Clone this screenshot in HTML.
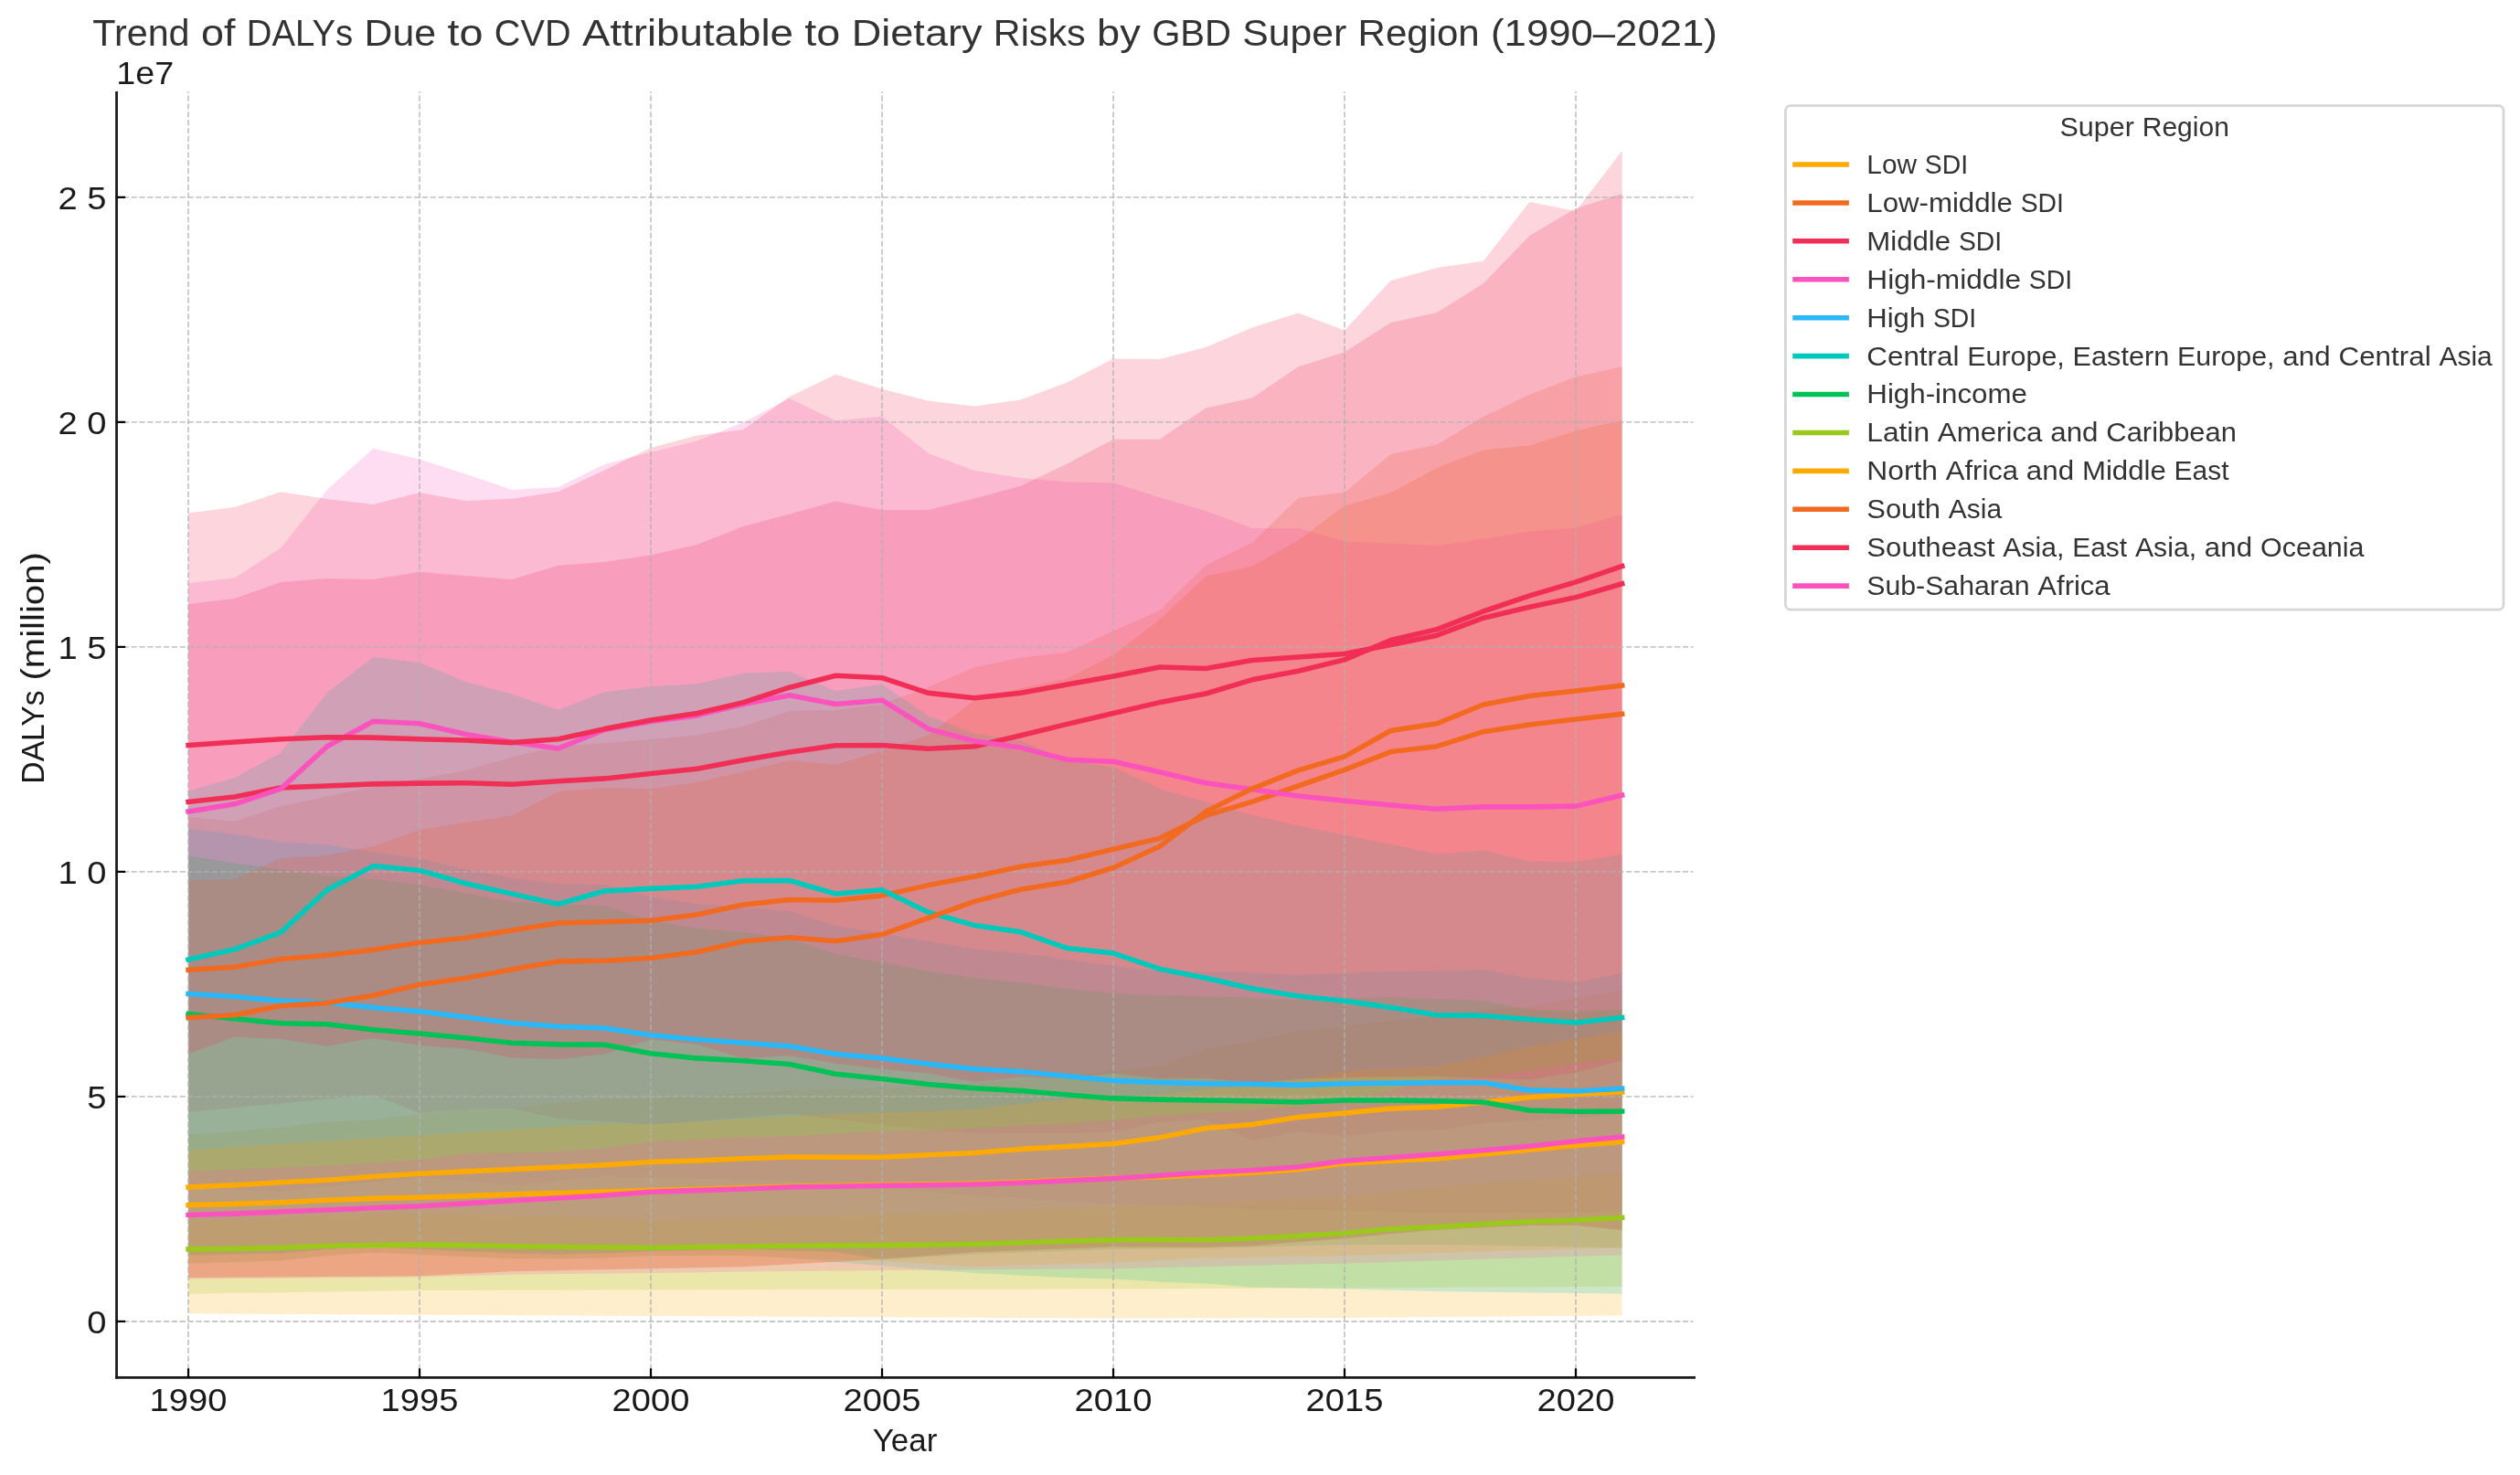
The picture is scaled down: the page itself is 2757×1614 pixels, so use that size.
<!DOCTYPE html>
<html lang="en"><head><meta charset="utf-8"><title>Trend of DALYs Due to CVD Attributable to Dietary Risks by GBD Super Region</title>
<style>html,body{margin:0;padding:0;background:#fff;}svg{will-change:transform;}body{width:2757px;height:1614px;position:relative;overflow:hidden;font-family:"Liberation Sans",sans-serif;}</style>
</head><body>
<svg width="2757" height="1614" viewBox="0 0 2757 1614" style="display:block;position:absolute;left:0;top:0">
<rect x="0" y="0" width="2757" height="1614" fill="#ffffff"/>
<g stroke="none">
<polygon points="206.1,1241.4 256.6,1238.3 307.2,1233.6 357.8,1227.6 408.4,1225.2 459.0,1219.3 509.6,1213.3 560.2,1212.9 610.8,1206.2 661.4,1203.0 712.0,1201.6 762.6,1199.0 813.2,1196.0 863.8,1193.0 914.4,1192.0 965.0,1191.0 1015.6,1188.0 1066.2,1185.2 1116.8,1181.0 1167.4,1177.0 1218.0,1172.0 1268.6,1166.0 1319.2,1147.6 1369.8,1139.3 1420.4,1127.4 1471.0,1123.8 1521.6,1116.0 1572.2,1111.9 1622.8,1105.0 1673.4,1101.0 1724.0,1091.7 1774.6,1083.3 1774.6,1439.5 1724.0,1439.9 1673.4,1440.3 1622.8,1440.7 1572.2,1441.1 1521.6,1441.5 1471.0,1441.9 1420.4,1442.0 1369.8,1442.2 1319.2,1442.3 1268.6,1442.5 1218.0,1442.6 1167.4,1442.3 1116.8,1442.1 1066.2,1441.8 1015.6,1441.6 965.0,1441.3 914.4,1441.0 863.8,1440.8 813.2,1440.5 762.6,1440.3 712.0,1440.0 661.4,1439.8 610.8,1439.5 560.2,1439.3 509.6,1439.0 459.0,1438.8 408.4,1438.6 357.8,1438.3 307.2,1438.1 256.6,1437.8 206.1,1437.6" fill="#FFAA00" fill-opacity="0.2"/>
<polygon points="206.1,894.0 256.6,898.8 307.2,882.1 357.8,871.4 408.4,860.7 459.0,852.4 509.6,843.0 560.2,828.6 610.8,816.7 661.4,813.1 712.0,809.0 762.6,804.3 813.2,794.8 863.8,778.1 914.4,776.9 965.0,770.5 1015.6,751.9 1066.2,730.0 1116.8,719.8 1167.4,713.8 1218.0,690.5 1268.6,668.0 1319.2,618.6 1369.8,594.0 1420.4,544.8 1471.0,538.8 1521.6,497.1 1572.2,486.4 1622.8,456.0 1673.4,431.7 1724.0,412.6 1774.6,401.2 1774.6,1346.0 1724.0,1340.7 1673.4,1340.7 1622.8,1343.0 1572.2,1345.5 1521.6,1350.0 1471.0,1355.0 1420.4,1359.0 1369.8,1363.3 1319.2,1364.5 1268.6,1364.4 1218.0,1364.3 1167.4,1366.2 1116.8,1368.1 1066.2,1370.0 1015.6,1373.8 965.0,1377.5 914.4,1380.5 863.8,1383.2 813.2,1386.0 762.6,1387.0 712.0,1388.0 661.4,1389.0 610.8,1390.0 560.2,1391.0 509.6,1393.5 459.0,1396.0 408.4,1396.4 357.8,1396.8 307.2,1397.1 256.6,1397.5 206.1,1397.9" fill="#F26A20" fill-opacity="0.2"/>
<polygon points="206.1,661.0 256.6,655.0 307.2,637.1 357.8,633.1 408.4,634.0 459.0,625.7 509.6,630.0 560.2,634.0 610.8,618.8 661.4,615.0 712.0,607.2 762.6,596.0 813.2,576.0 863.8,562.6 914.4,548.6 965.0,557.9 1015.6,557.9 1066.2,545.5 1116.8,531.7 1167.4,507.4 1218.0,480.7 1268.6,480.7 1319.2,446.4 1369.8,435.5 1420.4,401.2 1471.0,385.2 1521.6,352.9 1572.2,341.9 1622.8,310.2 1673.4,257.9 1724.0,228.1 1774.6,212.1 1774.6,1219.0 1724.0,1222.6 1673.4,1226.2 1622.8,1229.0 1572.2,1237.0 1521.6,1237.0 1471.0,1243.3 1420.4,1238.0 1369.8,1248.0 1319.2,1225.0 1268.6,1228.0 1218.0,1238.8 1167.4,1240.0 1116.8,1240.0 1066.2,1239.5 1015.6,1236.0 965.0,1231.0 914.4,1224.5 863.8,1219.0 813.2,1223.0 762.6,1227.0 712.0,1230.6 661.4,1226.9 610.8,1224.0 560.2,1212.9 509.6,1213.3 459.0,1218.1 408.4,1197.9 357.8,1202.6 307.2,1207.4 256.6,1212.1 206.1,1216.9" fill="#F02E56" fill-opacity="0.2"/>
<polygon points="206.1,637.9 256.6,632.4 307.2,599.8 357.8,536.0 408.4,490.7 459.0,502.6 509.6,518.8 560.2,536.0 610.8,533.1 661.4,508.1 712.0,495.0 762.6,482.4 813.2,462.1 863.8,436.0 914.4,460.2 965.0,455.7 1015.6,496.0 1066.2,515.0 1116.8,522.9 1167.4,527.6 1218.0,528.3 1268.6,544.3 1319.2,559.0 1369.8,577.9 1420.4,577.9 1471.0,592.4 1521.6,594.8 1572.2,596.9 1622.8,589.8 1673.4,581.4 1724.0,577.4 1774.6,563.1 1774.6,1325.0 1724.0,1327.0 1673.4,1327.0 1622.8,1327.0 1572.2,1327.0 1521.6,1326.0 1471.0,1325.0 1420.4,1324.0 1369.8,1322.5 1319.2,1321.0 1268.6,1319.5 1218.0,1318.1 1167.4,1315.0 1116.8,1311.8 1066.2,1308.6 1015.6,1303.8 965.0,1299.0 914.4,1295.5 863.8,1291.9 813.2,1290.8 762.6,1289.7 712.0,1288.5 661.4,1287.1 610.8,1291.9 560.2,1296.7 509.6,1292.5 459.0,1288.3 408.4,1293.5 357.8,1298.6 307.2,1303.8 256.6,1302.0 206.1,1300.2" fill="#FA53BD" fill-opacity="0.2"/>
<polygon points="206.1,907.1 256.6,913.1 307.2,921.4 357.8,924.3 408.4,932.1 459.0,939.3 509.6,951.2 560.2,960.7 610.8,966.7 661.4,968.3 712.0,981.0 762.6,989.3 813.2,992.9 863.8,997.1 914.4,1013.1 965.0,1021.0 1015.6,1030.0 1066.2,1038.3 1116.8,1042.9 1167.4,1050.0 1218.0,1057.1 1268.6,1062.6 1319.2,1063.3 1369.8,1064.3 1420.4,1066.7 1471.0,1064.8 1521.6,1063.1 1572.2,1062.6 1622.8,1061.2 1673.4,1070.2 1724.0,1075.0 1774.6,1064.8 1774.6,1345.7 1724.0,1340.4 1673.4,1340.4 1622.8,1342.7 1572.2,1345.2 1521.6,1349.7 1471.0,1354.7 1420.4,1358.7 1369.8,1363.0 1319.2,1364.2 1268.6,1364.1 1218.0,1364.0 1167.4,1365.9 1116.8,1367.8 1066.2,1369.7 1015.6,1373.5 965.0,1377.2 914.4,1369.7 863.8,1368.1 813.2,1366.7 762.6,1367.7 712.0,1368.7 661.4,1371.1 610.8,1372.3 560.2,1370.8 509.6,1368.9 459.0,1366.6 408.4,1364.2 357.8,1366.7 307.2,1371.2 256.6,1371.9 206.1,1373.1" fill="#29B8FA" fill-opacity="0.2"/>
<polygon points="206.1,865.5 256.6,851.0 307.2,823.8 357.8,757.9 408.4,719.0 459.0,725.0 509.6,746.0 560.2,759.5 610.8,776.7 661.4,757.1 712.0,751.2 762.6,748.3 813.2,736.4 863.8,734.8 914.4,756.0 965.0,748.8 1015.6,783.6 1066.2,802.6 1116.8,810.2 1167.4,831.7 1218.0,839.5 1268.6,863.1 1319.2,877.4 1369.8,891.7 1420.4,903.6 1471.0,913.8 1521.6,923.8 1572.2,934.5 1622.8,930.5 1673.4,942.4 1724.0,943.3 1774.6,934.5 1774.6,1415.7 1724.0,1415.1 1673.4,1414.5 1622.8,1413.7 1572.2,1412.9 1521.6,1411.7 1471.0,1410.5 1420.4,1409.5 1369.8,1408.6 1319.2,1404.5 1268.6,1402.6 1218.0,1399.5 1167.4,1397.9 1116.8,1395.5 1066.2,1393.0 1015.6,1389.5 965.0,1385.0 914.4,1381.0 863.8,1376.4 813.2,1374.0 762.6,1374.0 712.0,1374.0 661.4,1376.4 610.8,1377.6 560.2,1377.1 509.6,1375.2 459.0,1372.9 408.4,1370.5 357.8,1374.0 307.2,1379.5 256.6,1381.2 206.1,1382.4" fill="#00C9BB" fill-opacity="0.2"/>
<polygon points="206.1,936.2 256.6,944.5 307.2,951.2 357.8,958.3 408.4,961.9 459.0,967.9 509.6,977.4 560.2,986.9 610.8,989.3 661.4,991.0 712.0,1007.0 762.6,1015.7 813.2,1019.8 863.8,1026.9 914.4,1044.0 965.0,1053.1 1015.6,1062.6 1066.2,1069.8 1116.8,1075.2 1167.4,1081.7 1218.0,1086.9 1268.6,1089.3 1319.2,1090.0 1369.8,1091.7 1420.4,1094.0 1471.0,1092.4 1521.6,1091.2 1572.2,1092.9 1622.8,1094.8 1673.4,1104.8 1724.0,1106.7 1774.6,1104.8 1774.6,1365.2 1724.0,1364.4 1673.4,1363.6 1622.8,1362.8 1572.2,1362.0 1521.6,1362.0 1471.0,1362.0 1420.4,1363.3 1369.8,1364.7 1319.2,1366.0 1268.6,1366.5 1218.0,1367.0 1167.4,1368.8 1116.8,1370.7 1066.2,1372.5 1015.6,1375.5 965.0,1378.6 914.4,1370.3 863.8,1368.7 813.2,1367.3 762.6,1368.3 712.0,1369.3 661.4,1371.7 610.8,1372.9 560.2,1371.4 509.6,1369.5 459.0,1367.2 408.4,1364.8 357.8,1367.3 307.2,1371.8 256.6,1372.5 206.1,1373.7" fill="#00C256" fill-opacity="0.2"/>
<polygon points="206.1,1336.0 256.6,1334.8 307.2,1332.4 357.8,1330.0 408.4,1328.8 459.0,1328.1 509.6,1328.8 560.2,1330.0 610.8,1331.2 661.4,1332.4 712.0,1334.8 762.6,1333.6 813.2,1332.4 863.8,1331.2 914.4,1330.0 965.0,1328.8 1015.6,1327.6 1066.2,1326.4 1116.8,1324.4 1167.4,1322.5 1218.0,1320.5 1268.6,1318.5 1319.2,1315.5 1369.8,1313.5 1420.4,1311.0 1471.0,1308.6 1521.6,1303.8 1572.2,1299.0 1622.8,1294.9 1673.4,1290.7 1724.0,1287.1 1774.6,1283.6 1774.6,1407.9 1724.0,1408.1 1673.4,1408.4 1622.8,1408.6 1572.2,1408.8 1521.6,1409.1 1471.0,1409.3 1420.4,1409.6 1369.8,1409.8 1319.2,1410.0 1268.6,1410.3 1218.0,1410.5 1167.4,1410.6 1116.8,1410.7 1066.2,1410.8 1015.6,1410.9 965.0,1411.0 914.4,1411.0 863.8,1411.1 813.2,1411.2 762.6,1411.3 712.0,1411.4 661.4,1411.5 610.8,1411.7 560.2,1411.8 509.6,1412.0 459.0,1412.1 408.4,1412.8 357.8,1413.5 307.2,1414.3 256.6,1415.0 206.1,1415.7" fill="#9AC91C" fill-opacity="0.2"/>
<polygon points="206.1,1258.6 256.6,1255.0 307.2,1251.4 357.8,1248.6 408.4,1245.5 459.0,1242.4 509.6,1239.0 560.2,1236.0 610.8,1232.9 661.4,1230.0 712.0,1229.9 762.6,1227.5 813.2,1224.5 863.8,1221.5 914.4,1219.0 965.0,1217.4 1015.6,1215.5 1066.2,1213.8 1116.8,1207.9 1167.4,1203.1 1218.0,1200.7 1268.6,1197.5 1319.2,1192.0 1369.8,1188.0 1420.4,1181.8 1471.0,1171.9 1521.6,1169.5 1572.2,1166.7 1622.8,1156.0 1673.4,1145.2 1724.0,1136.9 1774.6,1128.6 1774.6,1365.2 1724.0,1366.6 1673.4,1368.0 1622.8,1369.5 1572.2,1371.0 1521.6,1372.5 1471.0,1374.0 1420.4,1374.8 1369.8,1375.6 1319.2,1376.4 1268.6,1379.0 1218.0,1381.5 1167.4,1383.0 1116.8,1384.5 1066.2,1386.0 1015.6,1382.9 965.0,1379.8 914.4,1378.0 863.8,1376.4 813.2,1374.0 762.6,1374.0 712.0,1374.0 661.4,1376.4 610.8,1377.6 560.2,1377.1 509.6,1375.2 459.0,1372.9 408.4,1370.5 357.8,1374.0 307.2,1379.5 256.6,1381.2 206.1,1382.4" fill="#FFAA00" fill-opacity="0.2"/>
<polygon points="206.1,963.1 256.6,961.9 307.2,939.3 357.8,935.7 408.4,925.7 459.0,908.3 509.6,900.0 560.2,892.4 610.8,866.2 661.4,861.9 712.0,863.2 762.6,856.2 813.2,844.3 863.8,832.1 914.4,837.1 965.0,821.4 1015.6,804.3 1066.2,766.2 1116.8,753.1 1167.4,742.4 1218.0,716.7 1268.6,678.1 1319.2,630.5 1369.8,619.5 1420.4,591.2 1471.0,553.6 1521.6,539.3 1572.2,511.9 1622.8,492.4 1673.4,487.6 1724.0,471.4 1774.6,460.0 1774.6,1346.3 1724.0,1341.0 1673.4,1341.0 1622.8,1343.3 1572.2,1345.8 1521.6,1350.3 1471.0,1355.3 1420.4,1359.3 1369.8,1363.6 1319.2,1364.8 1268.6,1364.7 1218.0,1364.6 1167.4,1366.5 1116.8,1368.4 1066.2,1370.3 1015.6,1374.0 965.0,1377.8 914.4,1380.8 863.8,1383.5 813.2,1386.3 762.6,1387.3 712.0,1388.3 661.4,1389.3 610.8,1390.3 560.2,1391.3 509.6,1393.8 459.0,1396.3 408.4,1396.7 357.8,1397.1 307.2,1397.4 256.6,1397.8 206.1,1398.2" fill="#F26A20" fill-opacity="0.2"/>
<polygon points="206.1,561.4 256.6,555.0 307.2,538.3 357.8,546.0 408.4,551.9 459.0,539.0 509.6,548.1 560.2,545.7 610.8,538.1 661.4,514.5 712.0,490.0 762.6,476.4 813.2,470.0 863.8,434.0 914.4,409.8 965.0,425.7 1015.6,438.6 1066.2,444.5 1116.8,437.6 1167.4,418.6 1218.0,392.6 1268.6,393.1 1319.2,380.0 1369.8,358.6 1420.4,342.4 1471.0,361.4 1521.6,307.1 1572.2,293.1 1622.8,285.7 1673.4,221.0 1724.0,231.0 1774.6,165.0 1774.6,1160.2 1724.0,1173.6 1673.4,1181.2 1622.8,1180.0 1572.2,1177.7 1521.6,1178.3 1471.0,1179.0 1420.4,1180.8 1369.8,1184.9 1319.2,1179.8 1268.6,1180.0 1218.0,1174.5 1167.4,1180.0 1116.8,1178.8 1066.2,1184.0 1015.6,1174.5 965.0,1169.8 914.4,1163.8 863.8,1155.0 813.2,1158.0 762.6,1143.1 712.0,1137.3 661.4,1153.6 610.8,1159.0 560.2,1157.6 509.6,1147.6 459.0,1144.0 408.4,1135.7 357.8,1144.8 307.2,1136.9 256.6,1134.5 206.1,1153.6" fill="#F02E56" fill-opacity="0.2"/>
<polygon points="206.1,1281.9 256.6,1280.0 307.2,1277.6 357.8,1275.2 408.4,1272.4 459.0,1269.3 509.6,1262.1 560.2,1261.4 610.8,1259.8 661.4,1256.2 712.0,1249.0 762.6,1247.1 813.2,1244.3 863.8,1243.6 914.4,1240.5 965.0,1237.6 1015.6,1236.4 1066.2,1234.8 1116.8,1231.7 1167.4,1229.3 1218.0,1225.7 1268.6,1220.5 1319.2,1218.0 1369.8,1214.0 1420.4,1210.7 1471.0,1205.6 1521.6,1193.2 1572.2,1180.0 1622.8,1178.0 1673.4,1171.5 1724.0,1163.3 1774.6,1158.1 1774.6,1373.3 1724.0,1374.8 1673.4,1376.3 1622.8,1377.8 1572.2,1379.4 1521.6,1380.9 1471.0,1382.4 1420.4,1383.6 1369.8,1384.8 1319.2,1385.9 1268.6,1387.1 1218.0,1388.3 1167.4,1388.6 1116.8,1389.0 1066.2,1389.3 1015.6,1389.7 965.0,1390.0 914.4,1390.5 863.8,1390.9 813.2,1391.4 762.6,1392.2 712.0,1393.0 661.4,1393.6 610.8,1394.1 560.2,1394.7 509.6,1396.1 459.0,1397.5 408.4,1397.9 357.8,1398.3 307.2,1398.7 256.6,1399.1 206.1,1399.5" fill="#FA53BD" fill-opacity="0.2"/>
</g>
<g stroke="#b0b0b0" stroke-opacity="0.7" stroke-width="1.85" stroke-dasharray="6.17 2.67" fill="none">
<line x1="206.05" y1="1507.45" x2="206.05" y2="100.3"/>
<line x1="459.04" y1="1507.45" x2="459.04" y2="100.3"/>
<line x1="712.03" y1="1507.45" x2="712.03" y2="100.3"/>
<line x1="965.02" y1="1507.45" x2="965.02" y2="100.3"/>
<line x1="1218.01" y1="1507.45" x2="1218.01" y2="100.3"/>
<line x1="1471.00" y1="1507.45" x2="1471.00" y2="100.3"/>
<line x1="1723.99" y1="1507.45" x2="1723.99" y2="100.3"/>
<line x1="127.55" y1="1445.95" x2="1852.5" y2="1445.95" stroke-dashoffset="1.6"/>
<line x1="127.55" y1="1199.93" x2="1852.5" y2="1199.93" stroke-dashoffset="1.6"/>
<line x1="127.55" y1="953.91" x2="1852.5" y2="953.91" stroke-dashoffset="1.6"/>
<line x1="127.55" y1="707.89" x2="1852.5" y2="707.89" stroke-dashoffset="1.6"/>
<line x1="127.55" y1="461.87" x2="1852.5" y2="461.87" stroke-dashoffset="1.6"/>
<line x1="127.55" y1="215.85" x2="1852.5" y2="215.85" stroke-dashoffset="1.6"/>
</g>
<g fill="none" stroke-width="5.56" stroke-linecap="square" stroke-linejoin="round">
<polyline points="206.1,1299.0 256.6,1296.7 307.2,1293.8 357.8,1291.2 408.4,1287.6 459.0,1284.3 509.6,1281.9 560.2,1279.5 610.8,1277.1 661.4,1274.8 712.0,1271.5 762.6,1270.0 813.2,1267.8 863.8,1266.0 914.4,1266.3 965.0,1266.3 1015.6,1263.8 1066.2,1261.5 1116.8,1257.4 1167.4,1254.6 1218.0,1251.4 1268.6,1244.8 1319.2,1234.5 1369.8,1230.5 1420.4,1222.6 1471.0,1217.9 1521.6,1213.1 1572.2,1211.2 1622.8,1206.0 1673.4,1200.7 1724.0,1197.6 1774.6,1195.0" stroke="#FFAA00"/>
<polyline points="206.1,1061.2 256.6,1058.3 307.2,1049.5 357.8,1045.2 408.4,1039.3 459.0,1031.4 509.6,1026.2 560.2,1017.9 610.8,1010.0 661.4,1008.8 712.0,1007.2 762.6,1000.7 813.2,990.0 863.8,984.5 914.4,985.2 965.0,979.9 1015.6,968.6 1066.2,959.0 1116.8,948.3 1167.4,941.2 1218.0,929.3 1268.6,917.4 1319.2,892.4 1369.8,877.4 1420.4,860.0 1471.0,842.4 1521.6,822.6 1572.2,816.7 1622.8,800.7 1673.4,792.9 1724.0,786.9 1774.6,781.4" stroke="#F26A20"/>
<polyline points="206.1,877.4 256.6,871.9 307.2,861.9 357.8,860.0 408.4,857.9 459.0,857.1 509.6,856.7 560.2,858.3 610.8,854.8 661.4,851.9 712.0,846.5 762.6,841.2 813.2,831.7 863.8,822.9 914.4,815.7 965.0,815.5 1015.6,819.3 1066.2,816.7 1116.8,804.8 1167.4,792.4 1218.0,780.5 1268.6,768.6 1319.2,759.0 1369.8,743.8 1420.4,734.3 1471.0,721.9 1521.6,700.5 1572.2,688.6 1622.8,669.0 1673.4,651.9 1724.0,636.9 1774.6,619.5" stroke="#F02E56"/>
<polyline points="206.1,888.1 256.6,879.8 307.2,863.1 357.8,816.7 408.4,789.3 459.0,791.7 509.6,803.6 560.2,811.9 610.8,819.0 661.4,798.5 712.0,789.5 762.6,782.9 813.2,770.5 863.8,760.7 914.4,770.5 965.0,766.2 1015.6,797.6 1066.2,811.0 1116.8,818.1 1167.4,831.2 1218.0,833.3 1268.6,844.8 1319.2,856.7 1369.8,863.8 1420.4,871.0 1471.0,876.2 1521.6,881.0 1572.2,885.2 1622.8,882.9 1673.4,882.9 1724.0,882.1 1774.6,870.2" stroke="#FA53BD"/>
<polyline points="206.1,1087.4 256.6,1090.5 307.2,1095.2 357.8,1097.1 408.4,1102.4 459.0,1106.7 509.6,1113.1 560.2,1119.5 610.8,1123.3 661.4,1125.0 712.0,1132.8 762.6,1137.6 813.2,1141.2 863.8,1144.8 914.4,1153.6 965.0,1157.9 1015.6,1164.3 1066.2,1169.8 1116.8,1172.6 1167.4,1177.4 1218.0,1182.4 1268.6,1184.5 1319.2,1185.7 1369.8,1186.2 1420.4,1187.4 1471.0,1185.7 1521.6,1185.2 1572.2,1184.8 1622.8,1184.8 1673.4,1192.9 1724.0,1194.0 1774.6,1191.2" stroke="#29B8FA"/>
<polyline points="206.1,1050.0 256.6,1038.8 307.2,1020.2 357.8,973.8 408.4,947.6 459.0,952.4 509.6,966.7 560.2,978.1 610.8,989.3 661.4,975.0 712.0,972.4 762.6,970.3 813.2,963.8 863.8,963.5 914.4,978.1 965.0,973.8 1015.6,998.3 1066.2,1012.6 1116.8,1019.8 1167.4,1037.6 1218.0,1043.1 1268.6,1060.2 1319.2,1070.2 1369.8,1081.7 1420.4,1090.0 1471.0,1095.2 1521.6,1102.4 1572.2,1110.7 1622.8,1111.4 1673.4,1115.5 1724.0,1119.0 1774.6,1113.6" stroke="#00C9BB"/>
<polyline points="206.1,1109.5 256.6,1114.8 307.2,1119.8 357.8,1120.7 408.4,1126.7 459.0,1131.0 509.6,1135.7 560.2,1141.2 610.8,1142.9 661.4,1143.3 712.0,1152.7 762.6,1157.9 813.2,1160.7 863.8,1164.5 914.4,1175.2 965.0,1180.5 1015.6,1186.4 1066.2,1190.7 1116.8,1193.6 1167.4,1197.9 1218.0,1201.9 1268.6,1203.1 1319.2,1204.0 1369.8,1204.8 1420.4,1206.0 1471.0,1204.0 1521.6,1204.0 1572.2,1204.8 1622.8,1206.0 1673.4,1215.0 1724.0,1216.2 1774.6,1216.0" stroke="#00C256"/>
<polyline points="206.1,1366.9 256.6,1366.4 307.2,1365.2 357.8,1363.3 408.4,1362.6 459.0,1362.1 509.6,1362.6 560.2,1363.8 610.8,1364.3 661.4,1364.8 712.0,1365.2 762.6,1364.5 813.2,1364.0 863.8,1363.3 914.4,1362.9 965.0,1362.6 1015.6,1362.1 1066.2,1361.4 1116.8,1359.8 1167.4,1358.1 1218.0,1356.9 1268.6,1356.4 1319.2,1356.7 1369.8,1355.0 1420.4,1352.6 1471.0,1349.5 1521.6,1344.8 1572.2,1342.6 1622.8,1339.5 1673.4,1336.7 1724.0,1335.2 1774.6,1332.4" stroke="#9AC91C"/>
<polyline points="206.1,1318.6 256.6,1317.4 307.2,1315.7 357.8,1313.3 408.4,1311.4 459.0,1310.2 509.6,1308.6 560.2,1306.9 610.8,1305.5 661.4,1304.0 712.0,1302.6 762.6,1301.3 813.2,1299.8 863.8,1298.0 914.4,1297.3 965.0,1296.4 1015.6,1295.7 1066.2,1295.0 1116.8,1293.3 1167.4,1291.0 1218.0,1289.0 1268.6,1288.0 1319.2,1285.7 1369.8,1283.3 1420.4,1279.8 1471.0,1273.1 1521.6,1270.2 1572.2,1267.9 1622.8,1263.1 1673.4,1258.3 1724.0,1253.6 1774.6,1249.5" stroke="#FFAA00"/>
<polyline points="206.1,1113.6 256.6,1110.7 307.2,1100.5 357.8,1097.6 408.4,1089.3 459.0,1077.4 509.6,1070.2 560.2,1060.7 610.8,1051.9 661.4,1051.2 712.0,1048.2 762.6,1041.7 813.2,1030.0 863.8,1025.7 914.4,1029.8 965.0,1022.6 1015.6,1004.3 1066.2,986.4 1116.8,973.3 1167.4,965.0 1218.0,949.5 1268.6,926.2 1319.2,888.1 1369.8,863.1 1420.4,842.9 1471.0,827.9 1521.6,799.5 1572.2,791.7 1622.8,771.0 1673.4,761.4 1724.0,756.0 1774.6,750.0" stroke="#F26A20"/>
<polyline points="206.1,815.5 256.6,811.9 307.2,808.8 357.8,806.7 408.4,807.1 459.0,808.8 509.6,810.0 560.2,812.6 610.8,808.8 661.4,797.6 712.0,788.0 762.6,780.5 813.2,768.6 863.8,752.2 914.4,739.3 965.0,741.7 1015.6,758.3 1066.2,763.8 1116.8,758.3 1167.4,749.0 1218.0,740.0 1268.6,730.0 1319.2,731.5 1369.8,722.4 1420.4,719.0 1471.0,715.5 1521.6,705.6 1572.2,695.2 1622.8,676.2 1673.4,664.3 1724.0,653.6 1774.6,638.8" stroke="#F02E56"/>
<polyline points="206.1,1329.5 256.6,1328.1 307.2,1326.0 357.8,1324.0 408.4,1321.7 459.0,1319.8 509.6,1316.9 560.2,1313.8 610.8,1311.0 661.4,1307.9 712.0,1304.3 762.6,1302.6 813.2,1301.0 863.8,1299.0 914.4,1298.3 965.0,1297.4 1015.6,1296.7 1066.2,1296.0 1116.8,1294.3 1167.4,1291.9 1218.0,1289.5 1268.6,1286.4 1319.2,1282.9 1369.8,1280.5 1420.4,1276.9 1471.0,1270.2 1521.6,1266.7 1572.2,1263.1 1622.8,1258.8 1673.4,1254.3 1724.0,1248.8 1774.6,1244.0" stroke="#FA53BD"/>
</g>
<g stroke="#1a1a1a" stroke-width="2.78" stroke-linecap="square" fill="none">
<line x1="127.55" y1="1507.45" x2="127.55" y2="101.5"/>
<line x1="127.55" y1="1507.45" x2="1853.6" y2="1507.45"/>
</g>
<g stroke="#000000" stroke-width="2.22" fill="none">
<line x1="206.05" y1="1507.45" x2="206.05" y2="1497.3500000000001"/>
<line x1="459.04" y1="1507.45" x2="459.04" y2="1497.3500000000001"/>
<line x1="712.03" y1="1507.45" x2="712.03" y2="1497.3500000000001"/>
<line x1="965.02" y1="1507.45" x2="965.02" y2="1497.3500000000001"/>
<line x1="1218.01" y1="1507.45" x2="1218.01" y2="1497.3500000000001"/>
<line x1="1471.00" y1="1507.45" x2="1471.00" y2="1497.3500000000001"/>
<line x1="1723.99" y1="1507.45" x2="1723.99" y2="1497.3500000000001"/>
<line x1="127.55" y1="1445.95" x2="137.15" y2="1445.95"/>
<line x1="127.55" y1="1199.93" x2="137.15" y2="1199.93"/>
<line x1="127.55" y1="953.91" x2="137.15" y2="953.91"/>
<line x1="127.55" y1="707.89" x2="137.15" y2="707.89"/>
<line x1="127.55" y1="461.87" x2="137.15" y2="461.87"/>
<line x1="127.55" y1="215.85" x2="137.15" y2="215.85"/>
</g>
<text y="49.60" font-size="41.22" font-family="Liberation Sans, sans-serif" fill="#333333" ><tspan x="101.18" textLength="106.44" lengthAdjust="spacingAndGlyphs">Trend</tspan> <tspan x="219.98" textLength="37.49" lengthAdjust="spacingAndGlyphs">of</tspan> <tspan x="269.83" textLength="116.39" lengthAdjust="spacingAndGlyphs">DALYs</tspan> <tspan x="398.58" textLength="78.52" lengthAdjust="spacingAndGlyphs">Due</tspan> <tspan x="489.46" textLength="39.04" lengthAdjust="spacingAndGlyphs">to</tspan> <tspan x="540.86" textLength="83.70" lengthAdjust="spacingAndGlyphs">CVD</tspan> <tspan x="636.93" textLength="231.04" lengthAdjust="spacingAndGlyphs">Attributable</tspan> <tspan x="880.34" textLength="39.04" lengthAdjust="spacingAndGlyphs">to</tspan> <tspan x="931.74" textLength="142.76" lengthAdjust="spacingAndGlyphs">Dietary</tspan> <tspan x="1086.87" textLength="100.87" lengthAdjust="spacingAndGlyphs">Risks</tspan> <tspan x="1200.10" textLength="47.70" lengthAdjust="spacingAndGlyphs">by</tspan> <tspan x="1260.16" textLength="86.76" lengthAdjust="spacingAndGlyphs">GBD</tspan> <tspan x="1359.29" textLength="113.94" lengthAdjust="spacingAndGlyphs">Super</tspan> <tspan x="1485.58" textLength="133.13" lengthAdjust="spacingAndGlyphs">Region</tspan> <tspan x="1631.08" textLength="247.74" lengthAdjust="spacingAndGlyphs">(1990–2021)</tspan></text>
<text x="163.64" y="1543.60" font-size="35.33" font-family="Liberation Sans, sans-serif" fill="#1a1a1a" textLength="84.82" lengthAdjust="spacingAndGlyphs" >1990</text>
<text x="416.63" y="1543.60" font-size="35.33" font-family="Liberation Sans, sans-serif" fill="#1a1a1a" textLength="84.82" lengthAdjust="spacingAndGlyphs" >1995</text>
<text x="669.62" y="1543.60" font-size="35.33" font-family="Liberation Sans, sans-serif" fill="#1a1a1a" textLength="84.82" lengthAdjust="spacingAndGlyphs" >2000</text>
<text x="922.61" y="1543.60" font-size="35.33" font-family="Liberation Sans, sans-serif" fill="#1a1a1a" textLength="84.82" lengthAdjust="spacingAndGlyphs" >2005</text>
<text x="1175.60" y="1543.60" font-size="35.33" font-family="Liberation Sans, sans-serif" fill="#1a1a1a" textLength="84.82" lengthAdjust="spacingAndGlyphs" >2010</text>
<text x="1428.59" y="1543.60" font-size="35.33" font-family="Liberation Sans, sans-serif" fill="#1a1a1a" textLength="84.82" lengthAdjust="spacingAndGlyphs" >2015</text>
<text x="1681.58" y="1543.60" font-size="35.33" font-family="Liberation Sans, sans-serif" fill="#1a1a1a" textLength="84.82" lengthAdjust="spacingAndGlyphs" >2020</text>
<text x="954.72" y="1587.80" font-size="35.33" font-family="Liberation Sans, sans-serif" fill="#1a1a1a" textLength="70.57" lengthAdjust="spacingAndGlyphs" >Year</text>
<text x="127.20" y="92.00" font-size="35.33" font-family="Liberation Sans, sans-serif" fill="#1a1a1a" textLength="62.92" lengthAdjust="spacingAndGlyphs" >1e7</text>
<text x="95.39" y="1459.35" font-size="35.33" font-family="Liberation Sans, sans-serif" fill="#1a1a1a" textLength="21.21" lengthAdjust="spacingAndGlyphs" >0</text>
<text x="95.39" y="1213.33" font-size="35.33" font-family="Liberation Sans, sans-serif" fill="#1a1a1a" textLength="21.21" lengthAdjust="spacingAndGlyphs" >5</text>
<text x="63.59" y="967.31" font-size="35.33" font-family="Liberation Sans, sans-serif" fill="#1a1a1a" textLength="21.21" lengthAdjust="spacingAndGlyphs" >1</text>
<text x="95.39" y="967.31" font-size="35.33" font-family="Liberation Sans, sans-serif" fill="#1a1a1a" textLength="21.21" lengthAdjust="spacingAndGlyphs" >0</text>
<text x="63.59" y="721.29" font-size="35.33" font-family="Liberation Sans, sans-serif" fill="#1a1a1a" textLength="21.21" lengthAdjust="spacingAndGlyphs" >1</text>
<text x="95.39" y="721.29" font-size="35.33" font-family="Liberation Sans, sans-serif" fill="#1a1a1a" textLength="21.21" lengthAdjust="spacingAndGlyphs" >5</text>
<text x="63.59" y="475.27" font-size="35.33" font-family="Liberation Sans, sans-serif" fill="#1a1a1a" textLength="21.21" lengthAdjust="spacingAndGlyphs" >2</text>
<text x="95.39" y="475.27" font-size="35.33" font-family="Liberation Sans, sans-serif" fill="#1a1a1a" textLength="21.21" lengthAdjust="spacingAndGlyphs" >0</text>
<text x="63.59" y="229.25" font-size="35.33" font-family="Liberation Sans, sans-serif" fill="#1a1a1a" textLength="21.21" lengthAdjust="spacingAndGlyphs" >2</text>
<text x="95.39" y="229.25" font-size="35.33" font-family="Liberation Sans, sans-serif" fill="#1a1a1a" textLength="21.21" lengthAdjust="spacingAndGlyphs" >5</text>
<g transform="translate(48.0,730.9) rotate(-90)"><text y="0.00" font-size="35.33" font-family="Liberation Sans, sans-serif" fill="#1a1a1a" ><tspan x="-126.75" textLength="102.22" lengthAdjust="spacingAndGlyphs">DALYs</tspan> <tspan x="-13.68" textLength="140.43" lengthAdjust="spacingAndGlyphs">(million)</tspan></text></g>
<rect x="1953.4" y="115.7" width="785.5999999999999" height="551.5" rx="5.5" ry="5.5" fill="#ffffff" fill-opacity="0.8" stroke="#cccccc" stroke-opacity="0.8" stroke-width="2.78"/>
<text y="148.50" font-size="29.45" font-family="Liberation Sans, sans-serif" fill="#333333" ><tspan x="2253.54" textLength="81.39" lengthAdjust="spacingAndGlyphs">Super</tspan> <tspan x="2343.76" textLength="95.10" lengthAdjust="spacingAndGlyphs">Region</tspan></text>
<line x1="1964.0" y1="180.00" x2="2020.1" y2="180.00" stroke="#FFAA00" stroke-width="5.56" stroke-linecap="square"/>
<text y="189.90" font-size="29.45" font-family="Liberation Sans, sans-serif" fill="#333333" ><tspan x="2042.30" textLength="54.71" lengthAdjust="spacingAndGlyphs">Low</tspan> <tspan x="2105.84" textLength="47.22" lengthAdjust="spacingAndGlyphs">SDI</tspan></text>
<line x1="1964.0" y1="221.92" x2="2020.1" y2="221.92" stroke="#F26A20" stroke-width="5.56" stroke-linecap="square"/>
<text y="231.82" font-size="29.45" font-family="Liberation Sans, sans-serif" fill="#333333" ><tspan x="2042.30" textLength="159.59" lengthAdjust="spacingAndGlyphs">Low-middle</tspan> <tspan x="2210.72" textLength="47.22" lengthAdjust="spacingAndGlyphs">SDI</tspan></text>
<line x1="1964.0" y1="263.84" x2="2020.1" y2="263.84" stroke="#F02E56" stroke-width="5.56" stroke-linecap="square"/>
<text y="273.74" font-size="29.45" font-family="Liberation Sans, sans-serif" fill="#333333" ><tspan x="2042.30" textLength="91.76" lengthAdjust="spacingAndGlyphs">Middle</tspan> <tspan x="2142.89" textLength="47.22" lengthAdjust="spacingAndGlyphs">SDI</tspan></text>
<line x1="1964.0" y1="305.76" x2="2020.1" y2="305.76" stroke="#FA53BD" stroke-width="5.56" stroke-linecap="square"/>
<text y="315.66" font-size="29.45" font-family="Liberation Sans, sans-serif" fill="#333333" ><tspan x="2042.30" textLength="168.73" lengthAdjust="spacingAndGlyphs">High-middle</tspan> <tspan x="2219.86" textLength="47.22" lengthAdjust="spacingAndGlyphs">SDI</tspan></text>
<line x1="1964.0" y1="347.68" x2="2020.1" y2="347.68" stroke="#29B8FA" stroke-width="5.56" stroke-linecap="square"/>
<text y="357.58" font-size="29.45" font-family="Liberation Sans, sans-serif" fill="#333333" ><tspan x="2042.30" textLength="63.85" lengthAdjust="spacingAndGlyphs">High</tspan> <tspan x="2114.98" textLength="47.22" lengthAdjust="spacingAndGlyphs">SDI</tspan></text>
<line x1="1964.0" y1="389.60" x2="2020.1" y2="389.60" stroke="#00C9BB" stroke-width="5.56" stroke-linecap="square"/>
<text y="399.50" font-size="29.45" font-family="Liberation Sans, sans-serif" fill="#333333" ><tspan x="2042.30" textLength="101.15" lengthAdjust="spacingAndGlyphs">Central</tspan> <tspan x="2152.28" textLength="106.52" lengthAdjust="spacingAndGlyphs">Europe,</tspan> <tspan x="2267.63" textLength="105.57" lengthAdjust="spacingAndGlyphs">Eastern</tspan> <tspan x="2382.04" textLength="106.52" lengthAdjust="spacingAndGlyphs">Europe,</tspan> <tspan x="2497.39" textLength="52.26" lengthAdjust="spacingAndGlyphs">and</tspan> <tspan x="2558.48" textLength="101.15" lengthAdjust="spacingAndGlyphs">Central</tspan> <tspan x="2668.46" textLength="58.22" lengthAdjust="spacingAndGlyphs">Asia</tspan></text>
<line x1="1964.0" y1="431.52" x2="2020.1" y2="431.52" stroke="#00C256" stroke-width="5.56" stroke-linecap="square"/>
<text x="2042.30" y="441.42" font-size="29.45" font-family="Liberation Sans, sans-serif" fill="#333333" textLength="175.62" lengthAdjust="spacingAndGlyphs" >High-income</text>
<line x1="1964.0" y1="473.44" x2="2020.1" y2="473.44" stroke="#9AC91C" stroke-width="5.56" stroke-linecap="square"/>
<text y="483.34" font-size="29.45" font-family="Liberation Sans, sans-serif" fill="#333333" ><tspan x="2042.30" textLength="68.72" lengthAdjust="spacingAndGlyphs">Latin</tspan> <tspan x="2119.85" textLength="114.59" lengthAdjust="spacingAndGlyphs">America</tspan> <tspan x="2243.27" textLength="52.26" lengthAdjust="spacingAndGlyphs">and</tspan> <tspan x="2304.37" textLength="142.55" lengthAdjust="spacingAndGlyphs">Caribbean</tspan></text>
<line x1="1964.0" y1="515.36" x2="2020.1" y2="515.36" stroke="#FFAA00" stroke-width="5.56" stroke-linecap="square"/>
<text y="525.26" font-size="29.45" font-family="Liberation Sans, sans-serif" fill="#333333" ><tspan x="2042.30" textLength="77.70" lengthAdjust="spacingAndGlyphs">North</tspan> <tspan x="2128.83" textLength="79.23" lengthAdjust="spacingAndGlyphs">Africa</tspan> <tspan x="2216.89" textLength="52.26" lengthAdjust="spacingAndGlyphs">and</tspan> <tspan x="2277.98" textLength="91.76" lengthAdjust="spacingAndGlyphs">Middle</tspan> <tspan x="2378.58" textLength="59.94" lengthAdjust="spacingAndGlyphs">East</tspan></text>
<line x1="1964.0" y1="557.28" x2="2020.1" y2="557.28" stroke="#F26A20" stroke-width="5.56" stroke-linecap="square"/>
<text y="567.18" font-size="29.45" font-family="Liberation Sans, sans-serif" fill="#333333" ><tspan x="2042.30" textLength="80.74" lengthAdjust="spacingAndGlyphs">South</tspan> <tspan x="2131.87" textLength="58.22" lengthAdjust="spacingAndGlyphs">Asia</tspan></text>
<line x1="1964.0" y1="599.20" x2="2020.1" y2="599.20" stroke="#F02E56" stroke-width="5.56" stroke-linecap="square"/>
<text y="609.10" font-size="29.45" font-family="Liberation Sans, sans-serif" fill="#333333" ><tspan x="2042.30" textLength="140.22" lengthAdjust="spacingAndGlyphs">Southeast</tspan> <tspan x="2191.35" textLength="67.05" lengthAdjust="spacingAndGlyphs">Asia,</tspan> <tspan x="2267.23" textLength="59.94" lengthAdjust="spacingAndGlyphs">East</tspan> <tspan x="2336.00" textLength="67.05" lengthAdjust="spacingAndGlyphs">Asia,</tspan> <tspan x="2411.88" textLength="52.26" lengthAdjust="spacingAndGlyphs">and</tspan> <tspan x="2472.97" textLength="113.60" lengthAdjust="spacingAndGlyphs">Oceania</tspan></text>
<line x1="1964.0" y1="641.12" x2="2020.1" y2="641.12" stroke="#FA53BD" stroke-width="5.56" stroke-linecap="square"/>
<text y="651.02" font-size="29.45" font-family="Liberation Sans, sans-serif" fill="#333333" ><tspan x="2042.30" textLength="178.24" lengthAdjust="spacingAndGlyphs">Sub-Saharan</tspan> <tspan x="2229.37" textLength="79.23" lengthAdjust="spacingAndGlyphs">Africa</tspan></text>
</svg>
</body></html>
